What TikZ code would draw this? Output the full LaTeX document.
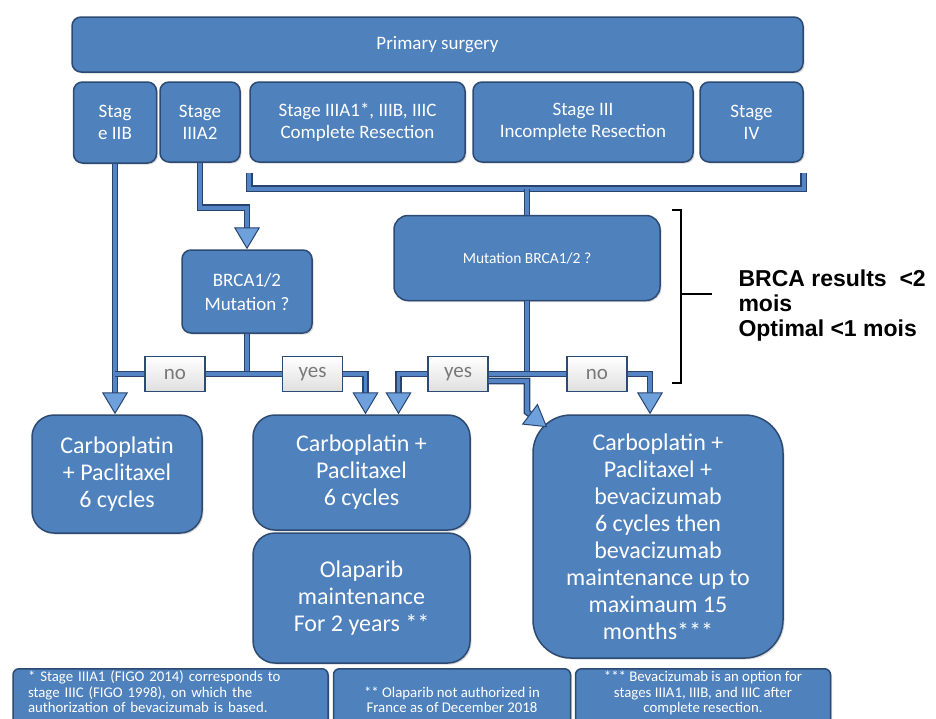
\documentclass[tikz,border=0pt]{standalone}
\usepackage{fontspec}
\setmainfont{Carlito}
\newfontfamily\arialfont{Liberation Sans}
\usetikzlibrary{arrows.meta,shadows}

\definecolor{boxblue}{RGB}{79,129,189}
\definecolor{boxline}{RGB}{44,74,114}
\definecolor{pipeblue}{RGB}{84,132,196}
\definecolor{pipedark}{RGB}{40,68,110}
\definecolor{tipfill}{RGB}{110,160,220}
\definecolor{taggray}{RGB}{120,120,120}

\begin{document}
\begin{tikzpicture}[x=1pt,y=-1pt,
  box/.style={draw=boxline, line width=1.5pt, fill=boxblue, rounded corners=9pt, text=white, align=center, inner sep=2pt,
    drop shadow={opacity=0.3, shadow xshift=1.5pt, shadow yshift=-1.5pt}},
  small/.style={box, font=\fontsize{19}{22}\selectfont},
  big/.style={box, rounded corners=22pt, font=\fontsize{24}{27}\selectfont},
  tag/.style={draw=boxline, line width=1.2pt, top color=white, bottom color=gray!25, text=taggray, minimum width=60pt, minimum height=35pt, font=\fontsize{21}{22}\selectfont},
  note/.style={box, rounded corners=6pt, anchor=north, minimum height=62pt, font=\fontsize{14.8}{15.5}\selectfont},
  pipe/.style={draw=pipedark, line width=1.4pt, double=pipeblue, double distance=3.8pt},
  tip/.style={pipe, -{Triangle[width=26pt,length=22pt,line width=1pt,fill=tipfill]}}
]
\useasboundingbox (0,0) rectangle (936,718);

% surgery and stages
\node[box, minimum width=731pt, minimum height=55pt, font=\fontsize{19}{22}\selectfont] (surgery) at (437.5,44.5) {Primary surgery};
\node[small, minimum width=83pt, minimum height=81pt] (stIIB) at (115,122.5) {Stag\\e IIB};
\node[small, minimum width=80pt, minimum height=80pt] (stIIIAii) at (200,122) {Stage\\IIIA2};
\node[small, minimum width=215pt, minimum height=80pt] (stComplete) at (357.5,122) {Stage IIIA1*, IIIB, IIIC\\Complete Resection};
\node[small, minimum width=220pt, minimum height=80pt] (stIncomplete) at (583,122) {Stage III\\Incomplete Resection};
\node[small, minimum width=103pt, minimum height=80pt] (stIV) at (751.5,122) {Stage\\IV};

% BRCA tests
\node[box, minimum width=130pt, minimum height=83pt, font=\fontsize{19}{24}\selectfont] (brcaL) at (247,291.5) {BRCA1/2\\Mutation ?};
\node[box, minimum width=266pt, minimum height=85pt, rounded corners=14pt, font=\fontsize{15.5}{18}\selectfont] (brcaR) at (527,258) {Mutation BRCA1/2 ?};

\node[tag] (noL) at (175,374) {no};
\node[tag] (yesL) at (312.5,374) {yes};
\node[tag] (yesR) at (458,374) {yes};
\node[tag] (noR) at (597,374) {no};

% treatments
\node[big, minimum width=170pt, minimum height=118pt] (carboL) at (117,474) {Carboplatin\\+ Paclitaxel\\6 cycles};
\node[big, minimum width=217pt, minimum height=115pt] (carboM) at (361.5,472.5) {Carboplatin +\\Paclitaxel\\6 cycles};
\node[big, minimum width=217pt, minimum height=130pt] (olaparib) at (361.5,598) {Olaparib\\maintenance\\For 2 years **};
\node[big, minimum width=250pt, minimum height=243pt, rounded corners=38pt] (carboR) at (658,536.5) {Carboplatin +\\Paclitaxel +\\bevacizumab\\6 cycles then\\bevacizumab\\maintenance up to\\maximaum 15\\months***};

% footnotes
\node[note, minimum width=315pt, align=left, text width=285pt] (noteA) at (170.5,668) {* Stage IIIA1 (FIGO 2014) corresponds to\\stage IIIC (FIGO 1998), on which the\\authorization of bevacizumab is based.\\\mbox{}};
\node[note, minimum width=237pt] (noteB) at (452,668) {** Olaparib not authorized in\\France as of December 2018};
\node[note, minimum width=255pt] (noteC) at (703,668) {*** Bevacizumab is an option for\\stages IIIA1, IIIB, and IIIC after\\complete resection.\\\mbox{}};

% delay bracket
\node[anchor=west, align=left, font=\arialfont\bfseries\fontsize{23}{25}\selectfont] (delay) at (735,306) {BRCA results \ <2\\mois\\Optimal <1 mois};
\coordinate (brTop) at (672,210);
\coordinate (brBot) at (672,383);
\coordinate (brMid) at (681,294);
\draw[line width=2pt] (brTop) -- ++(9,0) |- (brBot);
\draw[line width=2pt] (brMid) -- ++(31,0);

% connectors
\draw[tip] (stIIB.south) -- (stIIB.south |- carboL.north);
\draw[tip] (stIIIAii.south) -- ++(0,45) -| (brcaL.north);
\draw[pipe] ([yshift=-10pt]stComplete.south west) -- ++(0,16) -| ([yshift=-10pt]stIV.south east);
\draw[pipe] ([yshift=-26pt]brcaR.north |- stComplete.south) -- (brcaR.north);

\draw[pipe] (brcaL.south) -- (brcaL.south |- noL.center);
\draw[pipe] (noL.east) -- (yesL.west);
\draw[pipe] (noL.west) -- (noL.west -| stIIB.south);
\draw[tip] (yesL.east) -| ([xshift=4pt]carboM.north);

\draw[pipe] (brcaR.south) -- (brcaR.south |- noR.west);
\draw[pipe] (yesR.east) -- (noR.west);
\draw[tip] (yesR.west) -| ([xshift=37pt]carboM.north);
\draw[tip] (noR.east) -| ([xshift=-8pt]carboR.north);
\draw[tip] ([yshift=-7pt]yesR.east) -| ([yshift=-38pt]yesR.east -| brcaR.south) -- ([xshift=15pt,yshift=-13pt]carboR.north west);
\end{tikzpicture}
\end{document}
